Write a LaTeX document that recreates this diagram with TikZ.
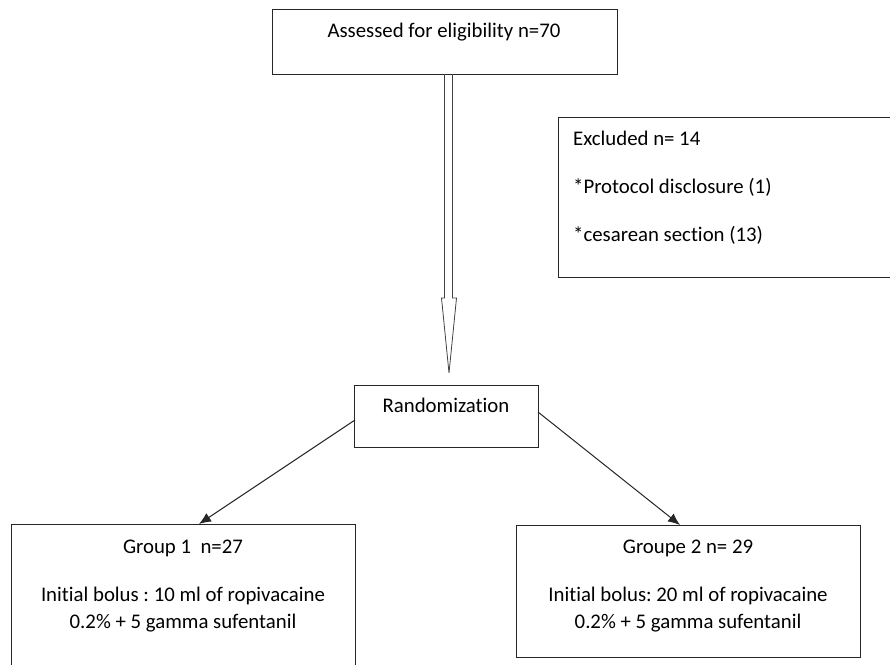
\documentclass[tikz,border=0pt]{standalone}
\usepackage{fontspec}
\setmainfont{Carlito}[Ligatures={NoCommon,TeX}]
\usetikzlibrary{arrows.meta,calc}
\frenchspacing
\begin{document}
\begin{tikzpicture}[x=1pt,y=-1pt,
  box/.style={draw=black!85,line width=1pt,rectangle,inner sep=0pt,outer sep=0pt},
  txt/.style={inner sep=0pt,anchor=base,font=\fontsize{20.8}{27}\selectfont,text=black},
  ltxt/.style={txt,anchor=base west},
  conn/.style={draw=black!85,line width=1pt,-{Latex[length=12pt,width=10pt]}},
  blockarrow/.style={draw=black!75,line width=0.8pt,line join=miter}]
\useasboundingbox (0,0) rectangle (890,664);
% boxes
\node[box,minimum width=336pt,minimum height=160pt] (excl) at (726,197) {};
\node[box,minimum width=345pt,minimum height=65pt] (assess) at (444.5,41.5) {};
\node[box,minimum width=184pt,minimum height=62pt] (rand) at (446,416) {};
\node[box,minimum width=344pt,minimum height=146pt] (g1) at (183,597) {};
\node[box,minimum width=344pt,minimum height=132pt] (g2) at (688,591) {};
% texts
\node[txt] (tassess) at (444,37) {Assessed for eligibility n=70};
\node[ltxt] (te1) at (573,145) {Excluded n= 14};
\node[ltxt] (te2) at (573,193) {*Protocol disclosure (1)};
\node[ltxt] (te3) at (573,241) {*cesarean section (13)};
\node[txt] (trand) at (446,412) {Randomization};
\node[txt] (tg1a) at (183,553) {Group 1\ \ n=27};
\node[txt] (tg1b) at (183,601) {Initial bolus : 10 ml of ropivacaine};
\node[txt] (tg1c) at (183,628) {0.2\% + 5 gamma sufentanil};
\node[txt] (tg2a) at (688,553) {Groupe 2 n= 29};
\node[txt] (tg2b) at (688,601) {Initial bolus: 20 ml of ropivacaine};
\node[txt] (tg2c) at (688,628) {0.2\% + 5 gamma sufentanil};
% block arrow from assess to rand
\coordinate (ba) at ($(assess.south)+(4,0)$);
\coordinate (bb) at ($(rand.north)+(3,-12)$);
\draw[blockarrow] ($(ba)+(-4,0)$) -- ($(ba)+(-4,224)$) -- ($(ba)+(-7,224)$)
  -- (bb) -- ($(ba)+(8,224)$) -- ($(ba)+(4,224)$) -- ($(ba)+(4,0)$);
% diagonal connectors
\draw[conn] ($(rand.west)+(1,4)$) -- ($(g1.north)+(16,0)$);
\draw[conn] ($(rand.east)+(0,-4)$) -- ($(g2.north)+(-8,0)$);
\end{tikzpicture}
\end{document}
